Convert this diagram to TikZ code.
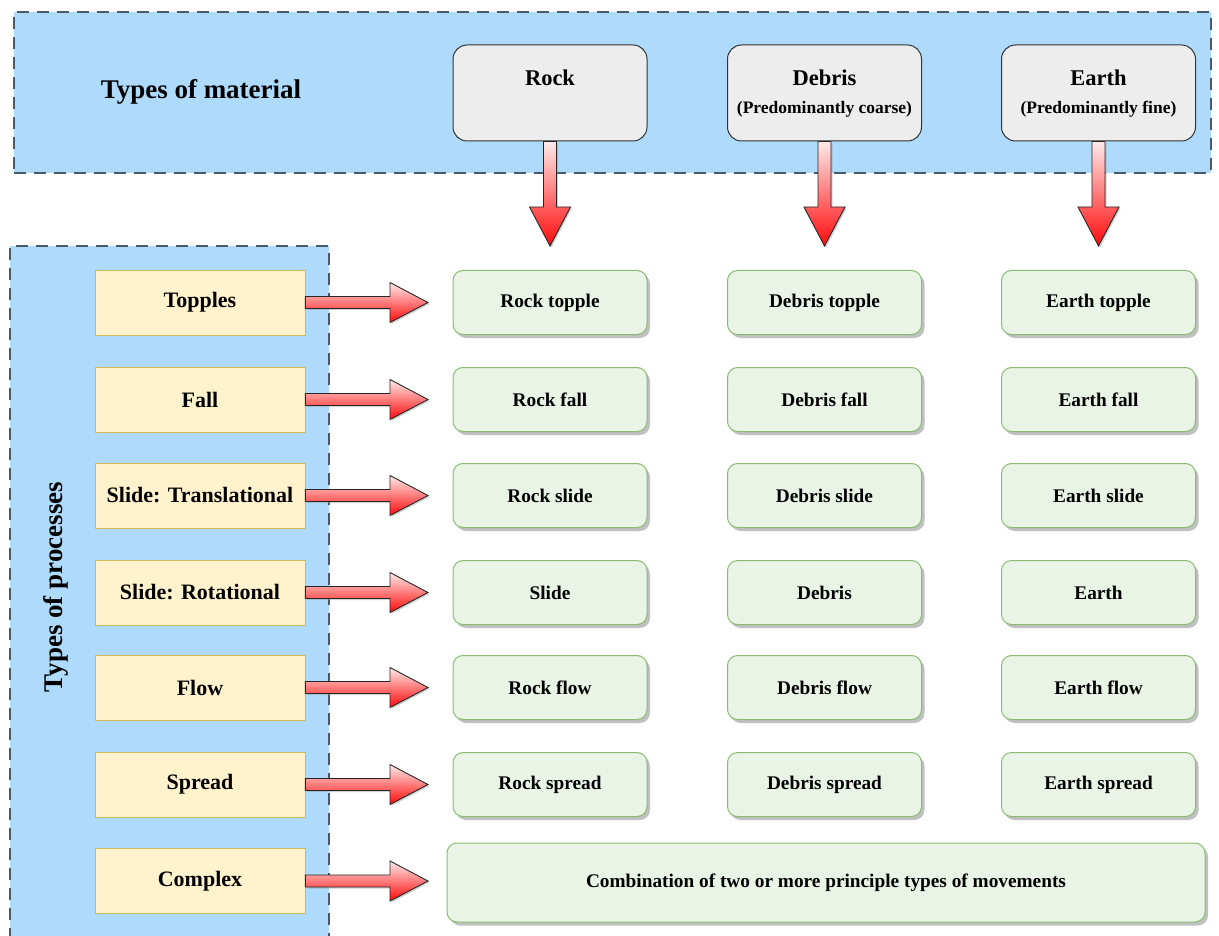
\documentclass[tikz,border=0pt]{standalone}
\usepackage{fontspec}
\setmainfont{Liberation Serif}
\usetikzlibrary{shadows,calc}

\definecolor{panelblue}{HTML}{AEDBFB}
\definecolor{paneledge}{HTML}{4B5966}
\definecolor{matfill}{HTML}{EDEDED}
\definecolor{matedge}{HTML}{333333}
\definecolor{procfill}{HTML}{FFF2CC}
\definecolor{procedge}{HTML}{D6B656}
\definecolor{resfill}{HTML}{E9F4E7}
\definecolor{resedge}{HTML}{8BBB72}
\definecolor{arrowtop}{HTML}{FFEAEA}
\definecolor{arrowbot}{HTML}{FF0A0A}

\tikzset{
  panel/.style={draw=paneledge, fill=panelblue, dash pattern=on 12pt off 8pt,
    line width=1.6pt, inner sep=0pt},
  headline/.style={font=\bfseries\fontsize{27}{31}\selectfont, inner sep=0pt},
  matbox/.style={draw=matedge, fill=matfill, rounded corners=14pt,
    minimum width=194pt, minimum height=96pt, line width=1pt},
  mattitle/.style={font=\bfseries\fontsize{22.5}{26}\selectfont, inner sep=0pt},
  matsub/.style={font=\bfseries\fontsize{17.5}{20}\selectfont, inner sep=0pt},
  procbox/.style={draw=procedge, fill=procfill, minimum width=210pt,
    minimum height=65pt, line width=0.8pt, font=\bfseries\fontsize{22}{25}\selectfont},
  resbox/.style={draw=resedge, fill=resfill, rounded corners=10pt,
    minimum width=194pt, minimum height=64pt, line width=1pt,
    drop shadow={shadow xshift=3pt, shadow yshift=-3.5pt, fill=black!45, opacity=0.55},
    font=\bfseries\fontsize{19.3}{22}\selectfont},
  fatarrow/.style={draw=black!85, line width=0.9pt, top color=arrowtop,
    bottom color=arrowbot,
    drop shadow={shadow xshift=1.5pt, shadow yshift=-1.5pt, fill=black!40, opacity=0.45}},
}

% block arrow pointing down from #1 to #2
\newcommand\fatdown[2]{%
  \path[fatarrow] let \p1=(#1), \p2=(#2) in
    (\x1-6.5pt,\y1) -- (\x1-6.5pt,\y2+39pt) -- (\x1-20.5pt,\y2+39pt) -- (\x2,\y2)
    -- (\x1+20.5pt,\y2+39pt) -- (\x1+6.5pt,\y2+39pt) -- (\x1+6.5pt,\y1) -- cycle;}
% block arrow pointing right from #1 to #2
\newcommand\fatright[2]{%
  \path[fatarrow] let \p1=(#1), \p2=(#2) in
    (\x1,\y1+6pt) -- (\x2-38pt,\y1+6pt) -- (\x2-38pt,\y1+20pt) -- (\x2,\y2)
    -- (\x2-38pt,\y1-20pt) -- (\x2-38pt,\y1-6pt) -- (\x1,\y1-6pt) -- cycle;}

\begin{document}
\begin{tikzpicture}[x=1pt,y=-1pt]
\useasboundingbox (0,0) rectangle (1219,936);

% background panels
\node[panel, minimum width=1197pt, minimum height=161pt] (matpanel) at (612.5,92.5) {};
\node[panel, minimum width=319pt, minimum height=700pt] (procpanel) at (169.5,596) {};

\node[headline] (mathead) at (201,92) {Types of material};
\node[headline, rotate=90] (prochead) at (56,587) {Types of processes};

% material boxes
\node[matbox] (rock) at (550,93) {};
\node[matbox] (debris) at (824.5,93) {};
\node[matbox] (earth) at (1098.5,93) {};
\node[mattitle] (rockname) at (550,78) {Rock};
\node[mattitle] (debrisname) at (824.5,78) {Debris};
\node[mattitle] (earthname) at (1098.5,78) {Earth};
\node[matsub] (debrissub) at (824.5,109) {(Predominantly coarse)};
\node[matsub] (earthsub) at (1098.5,109) {(Predominantly fine)};

\coordinate (tipline) at (428,0);
\coordinate (dropline) at (0,246);

% process rows
\foreach \id/\proc/\yy/\ra/\rb/\rc in {
    topple/Topples/302.5/Rock topple/Debris topple/Earth topple,
    fall/Fall/399.5/Rock fall/Debris fall/Earth fall,
    slidet/Slide: Translational/495.5/Rock slide/Debris slide/Earth slide,
    slider/Slide: Rotational/592.5/Slide/Debris/Earth,
    flow/Flow/687.5/Rock flow/Debris flow/Earth flow,
    spread/Spread/784.5/Rock spread/Debris spread/Earth spread}{
  \node[procbox] (p-\id) at (200,\yy) {\proc};
  \node[resbox] (r-\id-rock) at (550,\yy) {\ra};
  \node[resbox] (r-\id-debris) at (824.5,\yy) {\rb};
  \node[resbox] (r-\id-earth) at (1098.5,\yy) {\rc};
  \fatright{p-\id.east}{p-\id.east -| tipline}
}

\node[procbox] (p-complex) at (200,881) {Complex};
\node[resbox, minimum width=758pt, minimum height=79pt] (combo) at (826,882.5)
  {Combination of two or more principle types of movements};
\fatright{p-complex.east}{p-complex.east -| tipline}

% material arrows
\fatdown{rock.south}{rock.south |- dropline}
\fatdown{debris.south}{debris.south |- dropline}
\fatdown{earth.south}{earth.south |- dropline}
\end{tikzpicture}
\end{document}
